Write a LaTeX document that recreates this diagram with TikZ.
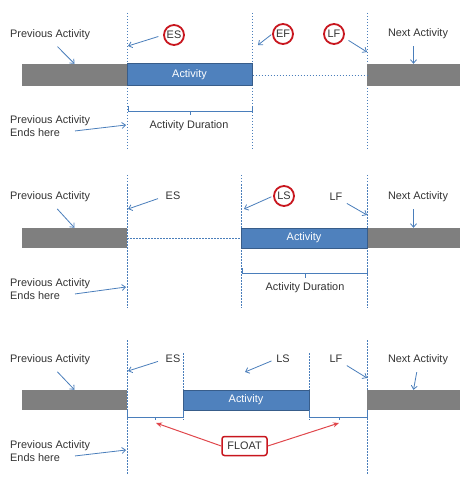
\documentclass[tikz,border=0pt]{standalone}
\usepackage{fontspec}
\setmainfont{Liberation Sans}
\usepackage{tikz}
\usetikzlibrary{arrows.meta}
\definecolor{lineblue}{HTML}{4A7EBB}
\definecolor{bargray}{HTML}{7F7F7F}
\definecolor{actblue}{HTML}{4F81BD}
\definecolor{actborder}{HTML}{385D8A}
\definecolor{ringred}{HTML}{C8161E}
\definecolor{floatred}{HTML}{E0474C}
\definecolor{txtgray}{HTML}{333333}

\begin{document}
\begin{tikzpicture}[x = 1pt, y = -1pt, font = \fontsize{10.9}{13.5}\selectfont,
  lbl/.style = {text = txtgray, inner sep = 0pt},
  twoline/.style = {lbl, align = left, anchor = west},
  ring/.style = {circle, draw = ringred, line width = 1.8pt, fill = white, text = txtgray, inner sep = 0pt, minimum size = 20pt},
  vline/.style = {draw = lineblue, line width = 0.7pt, dash pattern = on 1.5pt off 1.5pt},
  arr/.style = {draw = lineblue, line width = 0.8pt, -{Straight Barb[length = 3.5pt, width = 6pt]}},
  brace/.style = {draw = lineblue, line width = 0.8pt},
  prevbar/.style = {fill = bargray, inner sep = 0pt},
  actbar/.style = {fill = actblue, draw = actborder, line width = 1pt, text = white, inner sep = 0pt},
  floatbox/.style = {draw = ringred, line width = 1.5pt, rounded corners = 2.5pt, fill = white, text = txtgray, minimum width = 45pt, minimum height = 19pt},
  floatarr/.style = {draw = floatred, line width = 1pt, -{Stealth[length = 6pt, width = 5pt]}}]
\useasboundingbox (0, 0) rectangle (470, 486);
%\draw [help lines, step = 10] (0, 0) grid (470, 486);

% activity starts early
\draw [vline] (127, 13) -- (127, 150);
\draw [vline] (252, 13) -- (252, 150);
\draw [vline] (367, 13) -- (367, 150);
\node [prevbar, minimum width = 105pt, minimum height = 22pt] (prev1) at (74.5, 75) {};
\node [prevbar, minimum width = 93pt, minimum height = 22pt] (next1) at (413.5, 75) {};
\node [actbar, minimum width = 125pt, minimum height = 22pt] (act1) at (189.5, 75) {Activity};
\draw [vline] (act1.east) -- (next1.west);
\node [lbl, anchor = west] (pa1) at (10, 35) {Previous Activity};
\draw [arr, shorten <= 9pt] ([xshift = 1pt]pa1.south) -- (prev1.north);
\node [ring] (es1) at (174, 35) {ES};
\coordinate (es1t) at (128, 46);
\draw [arr, shorten <= 5pt] (es1.west) -- (es1t);
\node [ring] (ef1) at (283, 34) {EF};
\coordinate (ef1t) at (258, 45);
\draw [arr, shorten <= 1pt] (ef1.west) -- (ef1t);
\node [ring] (lf1) at (334, 34) {LF};
\coordinate (lf1t) at (367, 52);
\draw [arr, shorten <= 5pt] (lf1.-20) -- (lf1t);
\node [lbl] (na1) at (418, 34) {Next Activity};
\draw [arr, shorten <= 7pt] (na1.south -| next1.north) -- (next1.north);
\draw [brace] (128, 106) -- (128, 111) -- (252, 111) -- (252, 106);
\draw [brace] (190, 111) -- (190, 115);
\node [lbl] (ad1) at (189, 126) {Activity Duration};
\node [twoline] (pe1) at (10, 126) {Previous Activity\\Ends here};
\coordinate (pe1t) at (126, 125);
\draw [arr] ([shift = {(65, -6)}]pe1.south west) -- (pe1t);

% activity starts late
\draw [vline] (127, 175) -- (127, 308);
\draw [vline] (241, 175) -- (241, 308);
\draw [vline] (367, 175) -- (367, 308);
\node [prevbar, minimum width = 105pt, minimum height = 20pt] (prev2) at (74.5, 238) {};
\node [prevbar, minimum width = 93pt, minimum height = 20pt] (next2) at (413.5, 238) {};
\node [actbar, minimum width = 126pt, minimum height = 20pt] (act2) at (304, 238) {Activity};
\draw [vline] (prev2.east) -- (act2.west);
\node [lbl, anchor = west] (pa2) at (10, 197) {Previous Activity};
\draw [arr, shorten <= 9pt] ([xshift = 1pt]pa2.south) -- (prev2.north);
\node [lbl] (es2) at (173, 196) {ES};
\coordinate (es2t) at (128, 209);
\draw [arr, shorten <= 8pt] (es2.west) -- (es2t);
\node [ring] (ls2) at (284, 196) {LS};
\coordinate (ls2t) at (244, 209);
\draw [arr, shorten <= 2pt] (ls2.west) -- (ls2t);
\node [lbl] (lf2) at (336, 197) {LF};
\coordinate (lf2t) at (367, 215);
\draw [arr, shorten <= 5pt] (lf2.south east) -- (lf2t);
\node [lbl] (na2) at (418, 197) {Next Activity};
\draw [arr, shorten <= 7pt] (na2.south -| next2.north) -- (next2.north);
\draw [brace] (242, 268) -- (242, 273) -- (367, 273) -- (367, 268);
\draw [brace] (305, 273) -- (305, 278);
\node [lbl] (ad2) at (305, 288) {Activity Duration};
\node [twoline] (pe2) at (10, 289) {Previous Activity\\Ends here};
\coordinate (pe2t) at (126, 287);
\draw [arr] ([shift = {(65, -6)}]pe2.south west) -- (pe2t);

% float on both sides
\draw [vline] (127, 340) -- (127, 475);
\draw [vline] (367, 340) -- (367, 475);
\draw [vline] (183, 353) -- (183, 420);
\draw [vline] (309, 353) -- (309, 420);
\node [prevbar, minimum width = 105pt, minimum height = 20pt] (prev3) at (74.5, 400) {};
\node [prevbar, minimum width = 93pt, minimum height = 20pt] (next3) at (413.5, 400) {};
\node [actbar, minimum width = 126pt, minimum height = 20pt] (act3) at (246, 400) {Activity};
\node [lbl, anchor = west] (pa3) at (10, 360) {Previous Activity};
\draw [arr, shorten <= 9pt] ([xshift = 1pt]pa3.south) -- (prev3.north);
\node [lbl] (es3) at (173, 359) {ES};
\coordinate (es3t) at (128, 371);
\draw [arr, shorten <= 8pt] (es3.west) -- (es3t);
\node [lbl] (ls3) at (283, 359) {LS};
\coordinate (ls3t) at (245, 372);
\draw [arr, shorten <= 5pt] (ls3.west) -- (ls3t);
\node [lbl] (lf3) at (336, 359) {LF};
\coordinate (lf3t) at (367, 378);
\draw [arr, shorten <= 5pt] (lf3.south east) -- (lf3t);
\node [lbl] (na3) at (418, 360) {Next Activity};
\draw [arr, shorten <= 7pt] (na3.south) -- (next3.north);
\draw [brace] (127, 410) -- (127, 417) -- (183, 417) -- (183, 410);
\draw [brace] (155, 417) -- (155, 420);
\draw [brace] (309, 410) -- (309, 417) -- (367, 417) -- (367, 410);
\draw [brace] (339, 417) -- (339, 420);
\coordinate (fl3l) at (156, 423);
\coordinate (fl3r) at (339, 423);
\node [floatbox] (fl3) at (244.5, 446) {FLOAT};
\draw [floatarr] (fl3.west) -- (fl3l);
\draw [floatarr] (fl3.east) -- (fl3r);
\node [twoline] (pe3) at (10, 451) {Previous Activity\\Ends here};
\coordinate (pe3t) at (126, 450);
\draw [arr] ([shift = {(65, -6)}]pe3.south west) -- (pe3t);
\end{tikzpicture}
\end{document}
